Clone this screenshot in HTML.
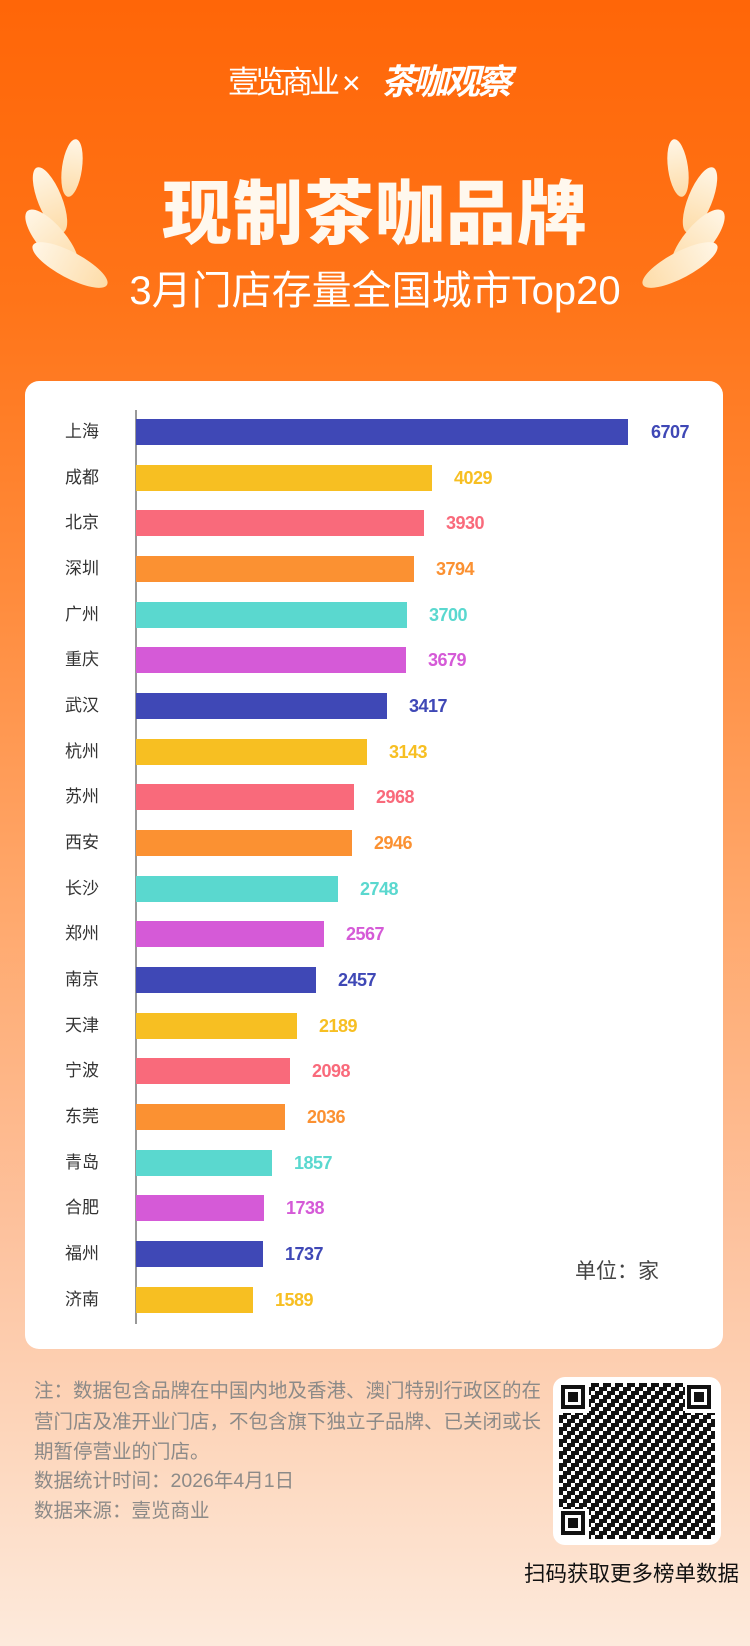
<!DOCTYPE html>
<html><head><meta charset="utf-8"><style>
*{margin:0;padding:0;box-sizing:border-box}
body{width:750px;height:1646px;position:relative;overflow:hidden;font-family:"Liberation Sans","Noto Sans CJK SC",sans-serif;
background:linear-gradient(180deg,#ff6608 0%,#ff7418 18%,#ff8a3a 35%,#ffa86c 55%,#fdc29e 75%,#fdd7bd 88%,#fdeadc 100%);}
.a{position:absolute;white-space:nowrap}
.card{position:absolute;left:25px;top:381px;width:698px;height:968px;background:#fff;border-radius:14px}
.city{position:absolute;left:65px;font-size:17px;color:#333;line-height:20px}
.bar{position:absolute;left:136px;height:26px}
.val{position:absolute;font-family:"Liberation Sans Narrow","Liberation Sans",sans-serif;font-weight:bold;font-size:18px;line-height:20px;letter-spacing:-0.5px}
.note{position:absolute;left:34px;font-size:19.5px;color:#8c8a88;line-height:22px}
</style></head><body>
<svg class="a" style="left:0;top:0" width="750" height="380">
<defs><linearGradient id="lf" x1="0" y1="0" x2="0" y2="1"><stop offset="0" stop-color="#fff6e6"/><stop offset="1" stop-color="#fddca8"/></linearGradient></defs>
<g fill="url(#lf)">
<ellipse cx="72" cy="168" rx="10" ry="29" transform="rotate(8 72 168)"/>
<ellipse cx="50" cy="200" rx="12" ry="35" transform="rotate(-22 50 200)"/>
<ellipse cx="52" cy="240" rx="14" ry="38" transform="rotate(-40 52 240)"/>
<ellipse cx="70" cy="265" rx="13" ry="42" transform="rotate(-62 70 265)"/>
<ellipse cx="678" cy="168" rx="10" ry="29" transform="rotate(-8 678 168)"/>
<ellipse cx="700" cy="200" rx="12" ry="35" transform="rotate(22 700 200)"/>
<ellipse cx="698" cy="240" rx="14" ry="38" transform="rotate(40 698 240)"/>
<ellipse cx="680" cy="265" rx="13" ry="42" transform="rotate(62 680 265)"/>
</g></svg>
<div class="a" style="left:228px;top:66px;font-size:31px;color:#fff;letter-spacing:-4px;line-height:34px">壹览商业</div>
<div class="a" style="left:342px;top:66px;font-size:32px;color:#fff;font-weight:300;line-height:34px">×</div>
<div class="a" style="left:381px;top:64px;font-size:35px;color:#fff;font-weight:bold;font-style:italic;letter-spacing:-3px;line-height:38px">茶咖观察</div>
<div class="a" style="left:0;width:750px;text-align:center;top:174px;font-size:70px;font-weight:900;color:#fff8ee;letter-spacing:1px;line-height:80px">现制茶咖品牌</div>
<div class="a" style="left:0;width:750px;text-align:center;top:268px;font-size:40px;color:#fff;line-height:46px">3月门店存量全国城市Top20</div>
<div class="card"></div>
<div class="a" style="left:135px;top:410px;width:2px;height:914px;background:#999"></div>
<div class="city" style="top:422px">上海</div><div class="bar" style="top:419px;width:492px;background:#3f48b6"></div><div class="val" style="top:422px;left:651px;color:#3f48b6">6707</div>
<div class="city" style="top:468px">成都</div><div class="bar" style="top:465px;width:296px;background:#f7bf22"></div><div class="val" style="top:468px;left:454px;color:#f7bf22">4029</div>
<div class="city" style="top:513px">北京</div><div class="bar" style="top:510px;width:288px;background:#f96a7b"></div><div class="val" style="top:513px;left:446px;color:#f96a7b">3930</div>
<div class="city" style="top:559px">深圳</div><div class="bar" style="top:556px;width:278px;background:#fb9132"></div><div class="val" style="top:559px;left:436px;color:#fb9132">3794</div>
<div class="city" style="top:605px">广州</div><div class="bar" style="top:602px;width:271px;background:#5ad8cf"></div><div class="val" style="top:605px;left:429px;color:#5ad8cf">3700</div>
<div class="city" style="top:650px">重庆</div><div class="bar" style="top:647px;width:270px;background:#d55ad7"></div><div class="val" style="top:650px;left:428px;color:#d55ad7">3679</div>
<div class="city" style="top:696px">武汉</div><div class="bar" style="top:693px;width:251px;background:#3f48b6"></div><div class="val" style="top:696px;left:409px;color:#3f48b6">3417</div>
<div class="city" style="top:742px">杭州</div><div class="bar" style="top:739px;width:231px;background:#f7bf22"></div><div class="val" style="top:742px;left:389px;color:#f7bf22">3143</div>
<div class="city" style="top:787px">苏州</div><div class="bar" style="top:784px;width:218px;background:#f96a7b"></div><div class="val" style="top:787px;left:376px;color:#f96a7b">2968</div>
<div class="city" style="top:833px">西安</div><div class="bar" style="top:830px;width:216px;background:#fb9132"></div><div class="val" style="top:833px;left:374px;color:#fb9132">2946</div>
<div class="city" style="top:879px">长沙</div><div class="bar" style="top:876px;width:202px;background:#5ad8cf"></div><div class="val" style="top:879px;left:360px;color:#5ad8cf">2748</div>
<div class="city" style="top:924px">郑州</div><div class="bar" style="top:921px;width:188px;background:#d55ad7"></div><div class="val" style="top:924px;left:346px;color:#d55ad7">2567</div>
<div class="city" style="top:970px">南京</div><div class="bar" style="top:967px;width:180px;background:#3f48b6"></div><div class="val" style="top:970px;left:338px;color:#3f48b6">2457</div>
<div class="city" style="top:1016px">天津</div><div class="bar" style="top:1013px;width:161px;background:#f7bf22"></div><div class="val" style="top:1016px;left:319px;color:#f7bf22">2189</div>
<div class="city" style="top:1061px">宁波</div><div class="bar" style="top:1058px;width:154px;background:#f96a7b"></div><div class="val" style="top:1061px;left:312px;color:#f96a7b">2098</div>
<div class="city" style="top:1107px">东莞</div><div class="bar" style="top:1104px;width:149px;background:#fb9132"></div><div class="val" style="top:1107px;left:307px;color:#fb9132">2036</div>
<div class="city" style="top:1153px">青岛</div><div class="bar" style="top:1150px;width:136px;background:#5ad8cf"></div><div class="val" style="top:1153px;left:294px;color:#5ad8cf">1857</div>
<div class="city" style="top:1198px">合肥</div><div class="bar" style="top:1195px;width:128px;background:#d55ad7"></div><div class="val" style="top:1198px;left:286px;color:#d55ad7">1738</div>
<div class="city" style="top:1244px">福州</div><div class="bar" style="top:1241px;width:127px;background:#3f48b6"></div><div class="val" style="top:1244px;left:285px;color:#3f48b6">1737</div>
<div class="city" style="top:1290px">济南</div><div class="bar" style="top:1287px;width:117px;background:#f7bf22"></div><div class="val" style="top:1290px;left:275px;color:#f7bf22">1589</div>
<div class="a" style="left:575px;top:1260px;font-size:21px;color:#444;line-height:24px">单位：家</div>
<div class="note" style="top:1380px">注：数据包含品牌在中国内地及香港、澳门特别行政区的在</div>
<div class="note" style="top:1411px">营门店及准开业门店，不包含旗下独立子品牌、已关闭或长</div>
<div class="note" style="top:1441px">期暂停营业的门店。</div>
<div class="note" style="top:1470px">数据统计时间：2026年4月1日</div>
<div class="note" style="top:1500px">数据来源：壹览商业</div>
<div class="a" style="left:553px;top:1377px;width:168px;height:168px;background:#fff;border-radius:12px"></div>
<svg class="a" style="left:559px;top:1383px" width="156" height="156">
<defs><pattern id="q" width="12" height="12" patternUnits="userSpaceOnUse">
<rect x="0" y="0" width="4" height="4" fill="#111"/><rect x="8" y="0" width="4" height="8" fill="#111"/><rect x="4" y="4" width="4" height="4" fill="#111"/><rect x="0" y="8" width="8" height="4" fill="#111"/></pattern></defs>
<rect x="0" y="0" width="156" height="156" fill="url(#q)"/>
<g><rect x="0" y="0" width="30" height="30" fill="#fff"/><rect x="2" y="2" width="24" height="24" fill="#111"/><rect x="6" y="6" width="16" height="16" fill="#fff"/><rect x="9" y="9" width="10" height="10" fill="#111"/></g>
<g transform="translate(126 0)"><rect width="30" height="30" fill="#fff"/><rect x="2" y="2" width="24" height="24" fill="#111"/><rect x="6" y="6" width="16" height="16" fill="#fff"/><rect x="9" y="9" width="10" height="10" fill="#111"/></g>
<g transform="translate(0 126)"><rect width="30" height="30" fill="#fff"/><rect x="2" y="2" width="24" height="24" fill="#111"/><rect x="6" y="6" width="16" height="16" fill="#fff"/><rect x="9" y="9" width="10" height="10" fill="#111"/></g>
</svg>
<div class="a" style="right:11px;top:1561px;font-size:21.5px;color:#111;line-height:26px">扫码获取更多榜单数据</div>
</body></html>
